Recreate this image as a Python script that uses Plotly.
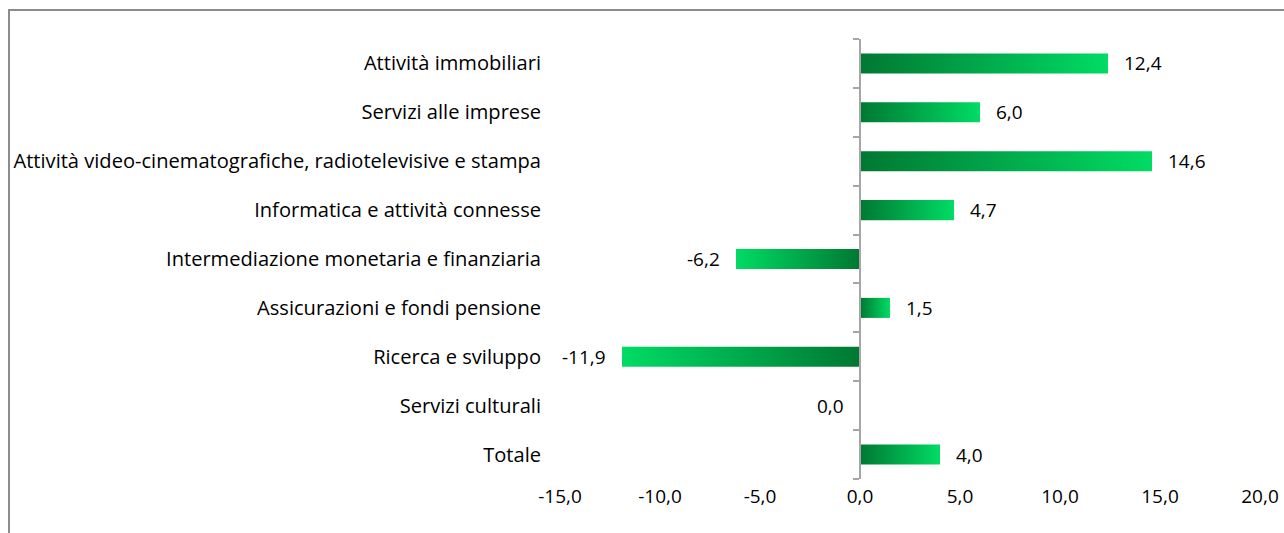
import plotly.graph_objects as go

categories = [
    "Attività immobiliari",
    "Servizi alle imprese",
    "Attività video-cinematografiche, radiotelevisive e stampa",
    "Informatica e attività connesse",
    "Intermediazione monetaria e finanziaria",
    "Assicurazioni e fondi pensione",
    "Ricerca e sviluppo",
    "Servizi culturali",
    "Totale",
]
values = [12.4, 6.0, 14.6, 4.7, -6.2, 1.5, -11.9, 0.0, 4.0]
x_ticks = [-15, -10, -5, 0, 5, 10, 15, 20]
x_tick_labels = ["-15,0", "-10,0", "-5,0", "0,0", "5,0", "10,0", "15,0", "20,0"]

DARK = "#007832"
LIGHT = "#00DC64"
AXIS_GRAY = "#a6a6a6"
FONT = "Open Sans"
FONT_SIZE = 19
HALF = 0.205  # half bar thickness, in category units

W, H = 1284, 533
ML, MR, MT, MB = 560, 24, 39, 54
PW, PH = W - ML - MR, H - MT - MB

fig = go.Figure()

# gradient bars: scatter polygons filled with a horizontal gradient, dark at zero
for i, v in enumerate(values):
    if v == 0:
        continue
    scale = [[0, DARK], [1, LIGHT]] if v > 0 else [[0, LIGHT], [1, DARK]]
    fig.add_trace(go.Scatter(
        x=[0, v, v, 0, 0],
        y=[i - HALF, i - HALF, i + HALF, i + HALF, i - HALF],
        mode="lines",
        line={"width": 0},
        fill="toself",
        fillgradient={"type": "horizontal", "colorscale": scale},
        hoverinfo="skip",
        showlegend=False,
    ))

# invisible trace so the zero axis (y2) is drawn
fig.add_trace(go.Scatter(x=[0], y=[0], yaxis="y2", mode="markers",
                         marker={"opacity": 0}, showlegend=False, hoverinfo="skip"))

for i, v in enumerate(values):
    fig.add_annotation(
        x=v, y=i, xref="x", yref="y",
        text=f"{v:.1f}".replace(".", ","),
        showarrow=False,
        xanchor="left" if v > 0 else "right",
        xshift=14 if v > 0 else -14,
        font={"family": FONT, "size": FONT_SIZE, "color": "#000000"},
    )

n = len(categories)
fig.update_layout(
    width=W,
    height=H,
    margin={"l": ML, "r": MR, "t": MT, "b": MB},
    paper_bgcolor="white",
    plot_bgcolor="white",
    showlegend=False,
    font={"family": FONT, "size": FONT_SIZE, "color": "#000000"},
    xaxis={
        "range": [-15, 20],
        "tickvals": x_ticks,
        "ticktext": x_tick_labels,
        "ticklabeloverflow": "allow",
        "automargin": False,
        "showgrid": False,
        "zeroline": False,
        "showline": False,
        "ticks": "",
        "ticklabelstandoff": 4,
    },
    yaxis={
        "range": [n - 0.5, -0.5],
        "tickvals": list(range(n)),
        "ticktext": categories,
        "tickfont": {"size": 20.1},
        "ticklabeloverflow": "allow",
        "automargin": False,
        "showgrid": False,
        "zeroline": False,
        "showline": False,
        "ticks": "",
        "ticklabelstandoff": 18,
    },
    yaxis2={
        "overlaying": "y",
        "anchor": "free",
        "position": 15 / 35,
        "automargin": False,
        "range": [n - 0.5, -0.5],
        "tickvals": [k - 0.5 for k in range(n + 1)],
        "showticklabels": False,
        "ticks": "outside",
        "ticklen": 6,
        "tickwidth": 1.5,
        "tickcolor": AXIS_GRAY,
        "showline": True,
        "linecolor": AXIS_GRAY,
        "linewidth": 1.5,
        "showgrid": False,
        "zeroline": False,
    },
)

# outer chart border
fig.add_shape(type="rect", xref="paper", yref="paper",
              x0=(9 - ML) / PW, x1=(W + 20 - ML) / PW,
              y0=(PH + MT - H - 20) / PH, y1=(PH + MT - 10) / PH,
              line={"color": "#8c8c8c", "width": 2}, fillcolor="rgba(0,0,0,0)", layer="below")

# drop the default 8px body margin so the figure fills the window exactly
fig.write_html(
    "out.html",
    config={"displayModeBar": False},
    post_script="document.body.style.margin = '0';",
)
